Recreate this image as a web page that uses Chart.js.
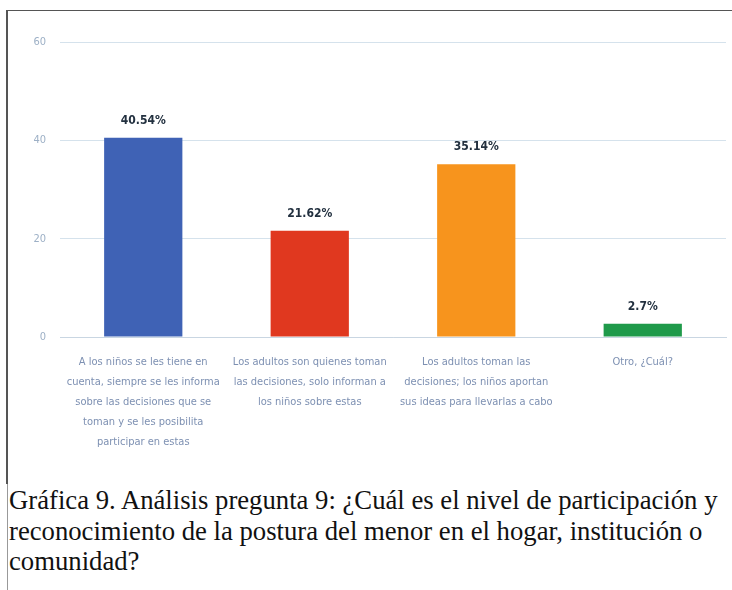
<!DOCTYPE html>
<html lang="es">
<head>
<meta charset="UTF-8">
<title>Gráfica 9</title>
<script src="https://cdn.jsdelivr.net/npm/chart.js@4.4.0/dist/chart.umd.min.js"></script>
<style>
*{box-sizing:border-box;margin:0;padding:0}
body{background:#fff;width:732px;height:590px;overflow:hidden;position:relative}
.frame{position:absolute;left:6px;top:10px;width:740px;height:474px;border-top:1.5px solid #555;border-left:2px solid #555}
.thin{position:absolute;left:7px;top:484px;width:1px;height:110px;background:#999}
.cw{position:absolute;left:8px;top:11px;width:724px;height:445px}
.cap{position:absolute;left:9px;top:485px;width:740px;white-space:nowrap;font-family:"Liberation Serif","Times New Roman",serif;font-size:26.7px;line-height:30.5px;color:#111}
</style>
</head>
<body>
<div class="frame"></div>
<div class="thin"></div>
<div class="cw"><canvas id="c"></canvas></div>
<div class="cap">Gráfica 9. Análisis pregunta 9: ¿Cuál es el nivel de participación y<br>reconocimiento de la postura del menor en el hogar, institución o<br>comunidad?</div>
<script>
const categories = [
  ["A los niños se les tiene en", "cuenta, siempre se les informa", "sobre las decisiones que se", "toman y se les posibilita", "participar en estas"],
  ["Los adultos son quienes toman", "las decisiones, solo informan a", "los niños sobre estas"],
  ["Los adultos toman las", "decisiones; los niños aportan", "sus ideas para llevarlas a cabo"],
  ["Otro, ¿Cuál?"]
];
const values = [40.54, 21.62, 35.14, 2.7];
const valueLabels = ["40.54%", "21.62%", "35.14%", "2.7%"];
const barColors = ["#3f62b5", "#e0381f", "#f7941d", "#1f9a4a"];
const yTicks = [0, 20, 40, 60];

const narrow = '"Liberation Sans Narrow", "DejaVu Sans Condensed", "Arial Narrow", sans-serif';

const valueLabelPlugin = {
  id: "valueLabels",
  afterDatasetsDraw(chart) {
    const ctx = chart.ctx;
    const meta = chart.getDatasetMeta(0);
    ctx.save();
    ctx.font = "bold 12px " + narrow;
    ctx.fillStyle = "#22303f";
    ctx.textAlign = "center";
    ctx.textBaseline = "middle";
    meta.data.forEach((bar, i) => {
      ctx.fillText(valueLabels[i], bar.x, bar.y - 17);
    });
    ctx.restore();
  }
};

new Chart(document.getElementById("c"), {
  type: "bar",
  data: {
    labels: categories,
    datasets: [{ data: values, backgroundColor: barColors, categoryPercentage: 1, barPercentage: 0.47 }]
  },
  options: {
    responsive: true, maintainAspectRatio: false, animation: false,
    layout: { padding: { top: 31, right: 6, left: 0, bottom: 0 } },
    plugins: { legend: { display: false }, tooltip: { enabled: false } },
    scales: {
      x: {
        grid: { display: false, drawTicks: false },
        border: { color: "#c9d6e2" },
        ticks: { color: "#7d90b2", font: { family: narrow, size: 11, lineHeight: "20px" }, padding: 15, maxRotation: 0, autoSkip: false },
        afterFit: s => { s.height = 119; }
      },
      y: {
        min: 0, max: 60,
        afterBuildTicks: s => { s.ticks = yTicks.map(v => ({ value: v })); },
        grid: { color: "#d5e2ec", drawTicks: false },
        border: { display: false },
        ticks: { color: "#9db0c6", font: { family: narrow, size: 11 }, padding: 14 },
        afterFit: s => { s.width = 52; }
      }
    }
  },
  plugins: [valueLabelPlugin]
});
</script>
</body>
</html>
